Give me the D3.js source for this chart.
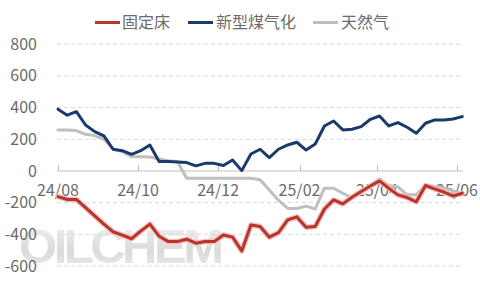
<!DOCTYPE html>
<html><head><meta charset="utf-8">
<script src="https://cdn.jsdelivr.net/npm/d3@7"></script>
<style>body{margin:0;background:#fff} svg{display:block}</style>
</head><body><svg id="c" width="480" height="292"></svg>
<script>
const dates = ["2024-08-01","2024-08-08","2024-08-15","2024-08-22","2024-08-29","2024-09-05","2024-09-12","2024-09-19","2024-09-26",
"2024-10-03","2024-10-10","2024-10-17","2024-10-24","2024-10-31","2024-11-07","2024-11-14","2024-11-21","2024-11-28",
"2024-12-05","2024-12-12","2024-12-19","2024-12-26","2025-01-02","2025-01-09","2025-01-16","2025-01-23","2025-01-30",
"2025-02-06","2025-02-13","2025-02-20","2025-02-27","2025-03-06","2025-03-13","2025-03-20","2025-03-27",
"2025-04-03","2025-04-10","2025-04-17","2025-04-24","2025-05-01","2025-05-08","2025-05-15","2025-05-22","2025-05-29","2025-06-05"];
const fixedBed = [-162,-180,-180,-232,-284,-336,-385,-405,-428,-380,-336,-412,-446,-446,-431,-456,-446,-446,-404,-418,-505,
-341,-351,-418,-389,-309,-290,-355,-351,-240,-183,-208,-166,-130,-95,-63,-109,-151,-168,-195,-92,-113,-133,-158,-141];
const newCoalGas = [390,352,374,290,248,221,137,128,105,128,164,60,59,56,53,32,48,48,34,69,2,
107,137,84,137,164,181,132,170,284,315,259,263,280,326,347,284,305,276,238,301,322,322,328,343];
const naturalGas = [259,259,255,231,223,200,137,122,90,90,88,75,65,59,-46,-46,-46,-46,-46,-46,-46,
-46,-55,-120,-185,-237,-237,-222,-240,-109,-109,-141,-170,-126,-88,-50,-91,-101,-151,-151,-88,-98,-107,-126,-142];
const seriesNames = ["固定床","新型煤气化","天然气"];
const seriesColors = ["#b8352e","#1a3a6c","#bfbfbf"];
const yTicks = [800,600,400,200,0,-200,-400,-600];
const xTickDates = ["2024-08-01","2024-10-01","2024-12-01","2025-02-01","2025-04-01","2025-06-01"];
const xTickLabels = ["24/08","24/10","24/12","25/02","25/04","25/06"];

const parse = d3.timeParse("%Y-%m-%d");
const svg = d3.select("#c");
const font = "'Noto Sans CJK SC','Microsoft YaHei',sans-serif";
const x = d3.scaleTime().domain([parse("2024-08-01"), parse("2025-06-01")]).range([58, 457]);
const y = d3.scaleLinear().domain([-600, 800]).range([266, 44.2]);
const plotL = 57, plotR = 463;

// watermark
const defs = svg.append("defs");
const g1 = defs.append("linearGradient").attr("id","wm").attr("x1","0").attr("y1","0").attr("x2","0").attr("y2","1");
g1.append("stop").attr("offset","0").attr("stop-color","#f3f3f3");
g1.append("stop").attr("offset","0.6").attr("stop-color","#dadada");
g1.append("stop").attr("offset","1").attr("stop-color","#eeeeee");
svg.append("text").attr("x",19).attr("y",263).attr("font-family","'Liberation Sans',Arial,sans-serif")
  .attr("font-weight","bold").attr("font-size",49).attr("textLength",205).attr("lengthAdjust","spacing")
  .attr("fill","url(#wm)").text("OILCHEM");

// gridlines
svg.append("g").selectAll("line").data(yTicks.filter(v=>v!==0)).join("line")
  .attr("x1",plotL).attr("x2",plotR).attr("y1",d=>y(d)).attr("y2",d=>y(d))
  .attr("stroke","#d9d9d9").attr("stroke-width",1).attr("stroke-dasharray","4,3");

// y labels
svg.append("g").selectAll("text").data(yTicks).join("text")
  .attr("x",37).attr("y",d=>y(d)).attr("dy","0.35em").attr("text-anchor","end")
  .attr("font-family",font).attr("font-size",16).attr("fill","#6b6b6b").text(d=>d);

// zero axis with ticks
svg.append("line").attr("x1",plotL).attr("x2",plotR).attr("y1",y(0)).attr("y2",y(0))
  .attr("stroke","#bfbfbf").attr("stroke-width",1);
const xt = xTickDates.map(parse);
svg.append("g").selectAll("line").data(xt).join("line")
  .attr("x1",d=>Math.round(x(d))+0.5).attr("x2",d=>Math.round(x(d))+0.5)
  .attr("y1",y(0)-6).attr("y2",y(0)).attr("stroke","#bfbfbf");
svg.append("g").selectAll("text").data(xt).join("text")
  .attr("x",d=>x(d)).attr("y",y(0)+25).attr("text-anchor","middle")
  .attr("font-family",font).attr("font-size",16).attr("fill","#6b6b6b")
  .text((d,i)=>xTickLabels[i]);

// lines
const pts = arr => arr.map((v,i)=>[parse(dates[i]), v]);
const line = d3.line().x(d=>x(d[0])).y(d=>y(d[1]));
const drawLine = (arr,color,w)=> svg.append("path").attr("d",line(pts(arr))).attr("fill","none")
  .attr("stroke",color).attr("stroke-width",w).attr("stroke-linejoin","round").attr("stroke-linecap","round");
drawLine(naturalGas, seriesColors[2], 3);
drawLine(newCoalGas, seriesColors[1], 3);
drawLine(fixedBed, "#f2c0bb", 5.5);
drawLine(fixedBed, seriesColors[0], 3);

// legend
const legend = [{x:95,tx:122},{x:188,tx:216},{x:313,tx:341}];
legend.forEach((l,i)=>{
  svg.append("line").attr("x1",l.x).attr("x2",l.x+25).attr("y1",22.5).attr("y2",22.5)
    .attr("stroke",seriesColors[i]).attr("stroke-width",3);
  svg.append("text").attr("x",l.tx).attr("y",22.5).attr("dy","0.35em")
    .attr("font-family",font).attr("font-size",16).attr("fill","#6b6b6b").text(seriesNames[i]);
});
</script></body></html>
